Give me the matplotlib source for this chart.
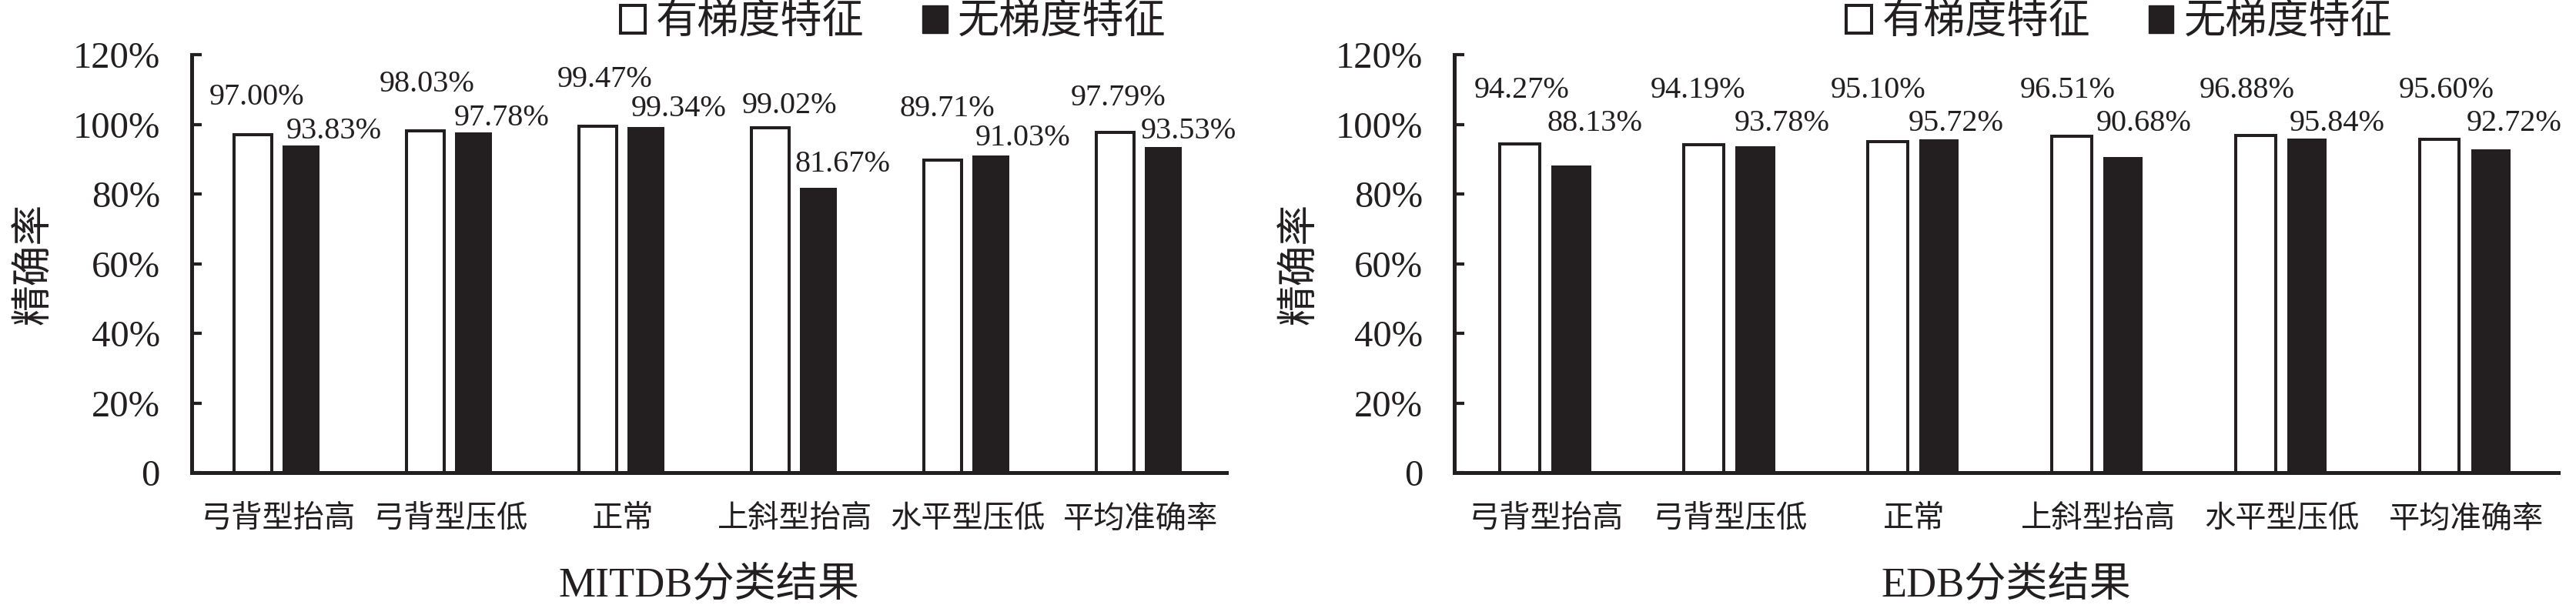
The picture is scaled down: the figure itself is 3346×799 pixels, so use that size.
import numpy as np
import matplotlib
matplotlib.use('Agg')
import matplotlib.pyplot as plt
from matplotlib.patches import Patch

plt.rcParams['font.family'] = ['Liberation Serif', 'Noto Sans CJK SC']

# data
categories = ['弓背型抬高', '弓背型压低', '正常', '上斜型抬高', '水平型压低', '平均准确率']
series_names = ['有梯度特征', '无梯度特征']
mitdb_grad = [97.00, 98.03, 99.47, 99.02, 89.71, 97.79]
mitdb_nograd = [93.83, 97.78, 99.34, 81.67, 91.03, 93.53]
edb_grad = [94.27, 94.19, 95.10, 96.51, 96.88, 95.60]
edb_nograd = [88.13, 93.78, 95.72, 90.68, 95.84, 92.72]
yticks = [0, 20, 40, 60, 80, 100, 120]

# label placement (style only): x shift in pixels, y lift in % points
mitdb_dx = ([5, 2, 9, 25, 6, 4], [43, 36, 42, 31, 41, 33])
mitdb_dy = ([10.8, 13.4, 13.3, 6.4, 14.8, 9.7], [4.1, 4.1, 5.0, 6.9, 5.1, 4.4])
edb_dx = ([3, -7, -12, -5, -11, 9], [31, 35, 22, 27, 39, 30])
edb_levels = (109.8, 100.3)

dark = '#231f20'

fig = plt.figure(figsize=(33.46, 7.99), dpi=100)
ax1 = fig.add_axes([0.0744, 0.2315, 0.4017, 0.6796])
ax2 = fig.add_axes([0.5646, 0.2315, 0.4285, 0.6796])


def draw(ax, grad, nograd, title, dx, dy=None, levels=None, leg_x=0.66, ylab_x=-0.135):
    x = np.arange(len(categories))
    w = 0.215
    ax.bar(x - 0.145, grad, w, color='white', edgecolor=dark, linewidth=2.9)
    ax.bar(x + 0.135, nograd, w, color=dark, edgecolor=dark, linewidth=0)
    for i in range(len(categories)):
        for j, (vals, off) in enumerate(((grad, -0.145), (nograd, 0.135))):
            if levels is not None:
                ty = levels[j]
            else:
                ty = vals[i] + dy[j][i]
            ax.annotate('%.2f%%' % vals[i], xy=(x[i] + off, ty),
                        xytext=(dx[j][i], 0), textcoords='offset pixels',
                        ha='center', va='center', fontsize=29, color=dark)
    ax.set_xlim(-0.5, len(categories) - 0.5)
    ax.set_ylim(0, 120)
    ax.set_yticks(yticks)
    ax.set_yticklabels(['0' if t == 0 else '%d%%' % t for t in yticks])
    ax.set_xticks(x)
    ax.set_xticklabels(categories)
    ax.tick_params(axis='y', direction='in', length=9.4, width=3, pad=29.5,
                   labelsize=35, colors=dark)
    ax.tick_params(axis='x', length=0, pad=31, labelsize=29, colors=dark)
    for s in ['top', 'right']:
        ax.spines[s].set_visible(False)
    for s in ['left', 'bottom']:
        ax.spines[s].set_linewidth(3.6)
        ax.spines[s].set_color(dark)
    ax.set_xlabel(title, fontsize=39, color=dark, labelpad=30)
    ax.set_ylabel('精确率', fontsize=38, color=dark)
    ax.yaxis.set_label_coords(ylab_x, 0.5)
    handles = [Patch(facecolor='white', edgecolor=dark, linewidth=2.9),
               Patch(facecolor=dark, edgecolor=dark)]
    ax.legend(handles, series_names, loc='center', bbox_to_anchor=(leg_x, 1.074),
              ncol=2, frameon=False, fontsize=39, handlelength=0.6,
              handleheight=0.65, handletextpad=0.25, columnspacing=1.4,
              borderaxespad=0, borderpad=0, labelcolor=dark)


draw(ax1, mitdb_grad, mitdb_nograd, 'MITDB分类结果', mitdb_dx, dy=mitdb_dy,
     leg_x=0.678, ylab_x=-0.133)
draw(ax2, edb_grad, edb_nograd, 'EDB分类结果', edb_dx, levels=edb_levels,
     leg_x=0.6025, ylab_x=-0.122)

fig.savefig('out.png', dpi=100)
